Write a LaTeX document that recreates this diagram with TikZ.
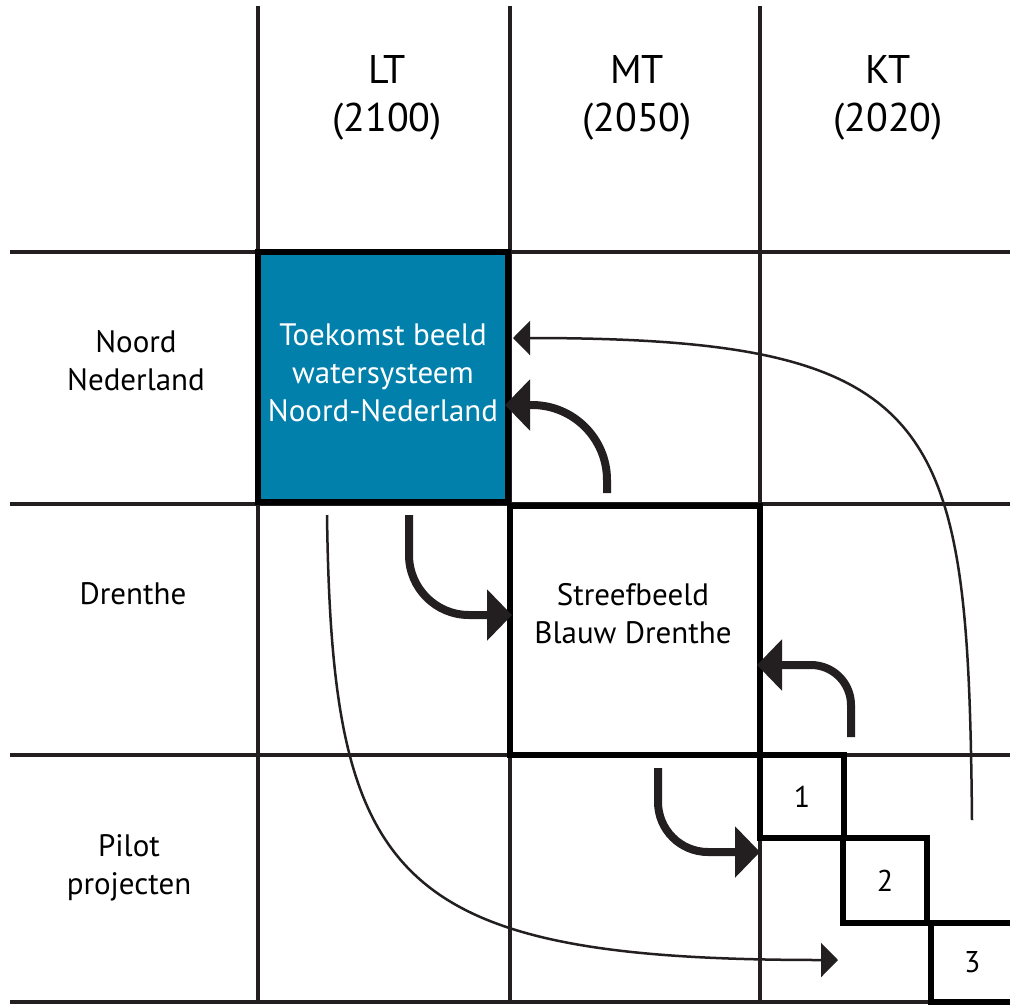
\documentclass[tikz,border=0pt]{standalone}
\usepackage{fontspec}
\setmainfont{PT Sans}
\usetikzlibrary{arrows.meta}
\definecolor{ink}{HTML}{231F20}
\definecolor{sea}{HTML}{0080AB}
\begin{document}
\begin{tikzpicture}[x=1pt,y=-1pt,
  gridline/.style={line width=3.5pt, draw=ink},
  bigbox/.style={draw=black, line width=6pt, inner sep=0pt, minimum width=250pt, minimum height=250pt},
  smallbox/.style={draw=black, line width=6pt, inner sep=0pt, font=\fontsize{30}{34}\selectfont},
  header/.style={align=center, font=\fontsize{40}{48}\selectfont},
  rowlabel/.style={align=center, font=\fontsize{31}{38}\selectfont},
  boxtext/.style={align=center, font=\fontsize{31}{38}\selectfont},
  thinarrow/.style={draw=ink, line width=2.5pt, -{Triangle[length=17pt, width=34pt]}},
  thickarrow/.style={draw=ink, line width=8pt, -{Triangle[length=25pt, width=50pt]}}
]
\clip (0,0) rectangle (1010,1005);
\fill[white] (0,0) rectangle (1010,1005);
% grid
\draw[gridline] (10,252) -- (1012,252);
\draw[gridline] (10,504) -- (1012,504);
\draw[gridline] (10,755) -- (1012,755);
\draw[gridline] (10,1002) -- (1012,1002);
\draw[gridline] (258,6) -- (258,1002);
\draw[gridline] (510,6) -- (510,1002);
\draw[gridline] (760,6) -- (760,1002);
% headers
\node[header] (lt) at (387,98) {LT\\(2100)};
\node[header] (mt) at (637,98) {MT\\(2050)};
\node[header] (kt) at (888,98) {KT\\(2020)};
% row labels
\node[rowlabel] (rnn) at (136,361) {Noord\\Nederland};
\node[rowlabel] (rdr) at (133,594) {Drenthe};
\node[rowlabel] (rpp) at (129,868) {Pilot\\projecten};
% boxes
\node[bigbox, fill=sea] (blue) at (383,377) {};
\node[boxtext, text=white] (bluetext) at (383,373) {Toekomst beeld\\watersysteem\\Noord-Nederland};
\node[bigbox, minimum height=249pt] (drenthe) at (635,630.5) {};
\node[boxtext] (drenthetext) at (633,614) {Streefbeeld\\Blauw Drenthe};
\node[smallbox, minimum width=84pt, minimum height=83pt] (p1) at (802,796.5) {1};
\node[smallbox, minimum width=84pt, minimum height=85pt] (p2) at (885,880.5) {2};
\node[smallbox, minimum width=88pt, minimum height=79pt, text width=82pt, align=left] (p3) at (975,962.5) {\hspace*{30pt}3};
% arrow end points
\coordinate (a1s) at (972,820);
\coordinate (a1e) at (513,338);
\coordinate (a2s) at (607,493);
\coordinate (a2e) at (505,405);
\coordinate (a3s) at (409,515);
\coordinate (a3e) at (512,615);
\coordinate (a4s) at (851,737);
\coordinate (a4e) at (757,665);
\coordinate (a5s) at (658,768);
\coordinate (a5e) at (760,852);
\coordinate (a6s) at (327,515);
\coordinate (a6e) at (838,960);
% arrows
\draw[thinarrow] (a1s) .. controls (968,420) and (945,338) .. (a1e);
\draw[thinarrow] (a6s) .. controls (332,880) and (390,960) .. (a6e);
\draw[thickarrow, rounded corners=75pt] (a2s) |- (a2e);
\draw[thickarrow, rounded corners=60pt] (a3s) |- (a3e);
\draw[thickarrow, rounded corners=40pt] (a4s) |- (a4e);
\draw[thickarrow, rounded corners=50pt] (a5s) |- (a5e);
\end{tikzpicture}
\end{document}
